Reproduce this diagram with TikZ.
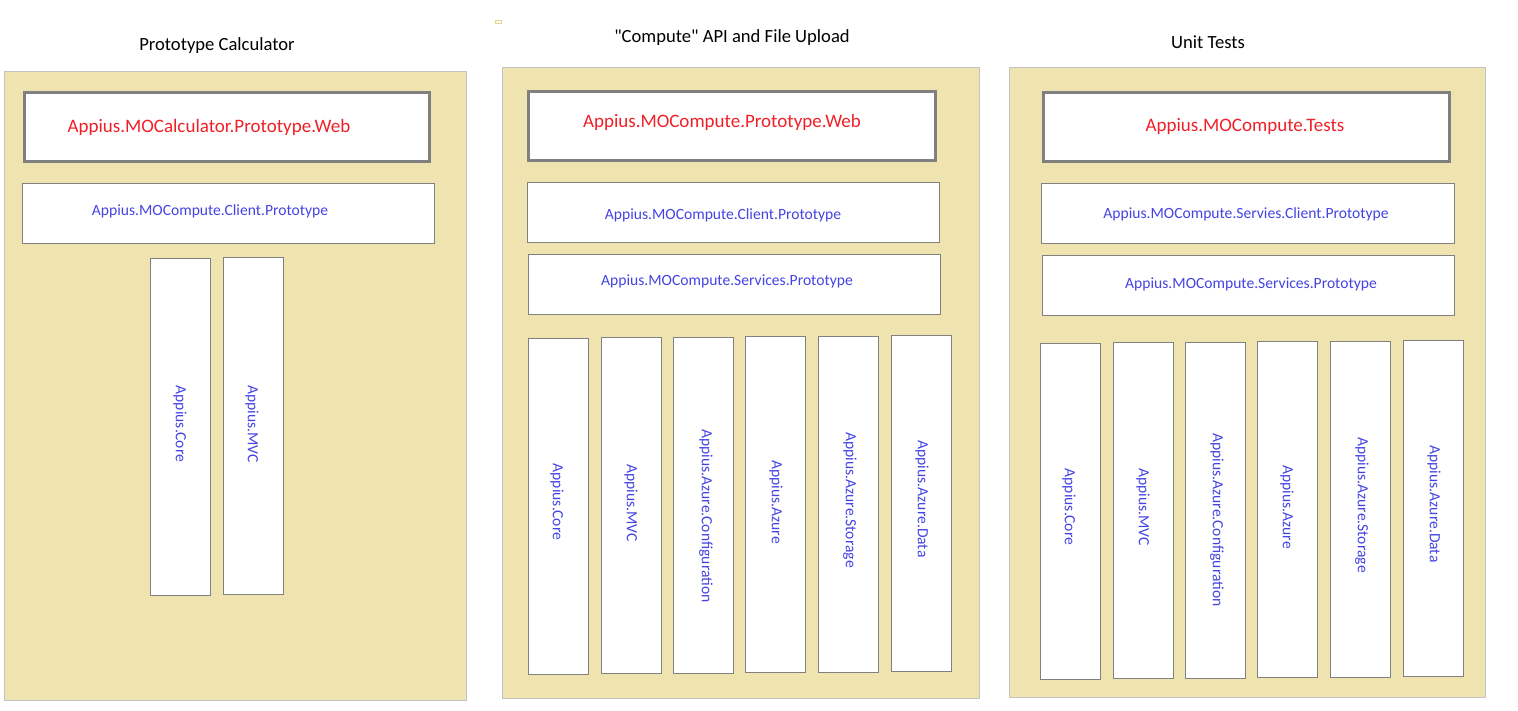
\documentclass[tikz,border=0pt]{standalone}
\usepackage{fontspec}
\setmainfont{Carlito}
\newfontfamily\titlefont{Carlito}
\definecolor{panelfill}{RGB}{239,227,176}
\definecolor{panelline}{RGB}{195,195,195}
\definecolor{boxline}{RGB}{128,128,128}
\definecolor{webred}{RGB}{240,32,40}
\definecolor{libblue}{RGB}{68,68,228}
\definecolor{speck}{RGB}{228,212,140}
\begin{document}
\begin{tikzpicture}[x=1pt,y=-1pt,
  panel/.style={draw=panelline,fill=panelfill,line width=1pt,inner sep=0pt},
  webbox/.style={draw=boxline,fill=white,line width=3pt,inner sep=0pt,minimum height=69pt},
  libbox/.style={draw=boxline,fill=white,line width=1pt,inner sep=0pt,minimum width=412pt,minimum height=60pt},
  colbox/.style={draw=boxline,fill=white,line width=1pt,inner sep=0pt,minimum width=60pt,minimum height=336pt},
  title/.style={inner sep=0pt,font=\titlefont\fontsize{18.6}{22}\selectfont},
  webtext/.style={inner sep=0pt,text=webred,font=\fontsize{19}{22}\selectfont},
  libtext/.style={inner sep=0pt,text=libblue,font=\fontsize{15.6}{18}\selectfont},
  coltext/.style={inner sep=0pt,text=libblue,font=\fontsize{15.6}{18}\selectfont,rotate=-90}]
  \useasboundingbox (0,0) rectangle (1518,711);
  \draw[speck] (495,20) rectangle (501,23);

  \node[panel,minimum width=462pt,minimum height=628pt] (calc) at (235,386) {};
  \node[title] (calctitle) at (217,46) {Prototype Calculator};
  \node[webbox,minimum width=405pt] (calcweb) at (227,127) {};
  \node[webtext] (calcwebt) at (209,127) {Appius.MOCalculator.Prototype.Web};
  \node[libbox] (calcclient) at (228,214) {};
  \node[libtext] (calcclientt) at (210,211) {Appius.MOCompute.Client.Prototype};
  \node[colbox] (calccore) at (180,427) {};
  \node[coltext] (calccoret) at (180,424) {Appius.Core};
  \node[colbox] (calcmvc) at (253,426) {};
  \node[coltext] (calcmvct) at (252,424) {Appius.MVC};

  \node[panel,minimum width=477pt,minimum height=630pt] (comp) at (740.5,383) {};
  \node[title] (comptitle) at (732,38) {"Compute" API and File Upload};
  \node[webbox,minimum width=407pt] (compweb) at (732,126) {};
  \node[webtext] (compwebt) at (722,122) {Appius.MOCompute.Prototype.Web};
  \node[libbox] (compclient) at (733,213) {};
  \node[libtext] (compclientt) at (723,215) {Appius.MOCompute.Client.Prototype};
  \node[libbox] (compserv) at (734,285) {};
  \node[libtext] (compservt) at (727,281) {Appius.MOCompute.Services.Prototype};
  \node[colbox] (compcore) at (558,506) {};
  \node[coltext] (compcoret) at (557,502) {Appius.Core};
  \node[colbox] (compmvc) at (631,505) {};
  \node[coltext] (compmvct) at (631,503) {Appius.MVC};
  \node[colbox] (compconf) at (703,505) {};
  \node[coltext] (compconft) at (706,516) {Appius.Azure.Configuration};
  \node[colbox] (compazure) at (775,504) {};
  \node[coltext] (compazuret) at (776,502) {Appius.Azure};
  \node[colbox] (compstore) at (848,504) {};
  \node[coltext] (compstoret) at (850,500) {Appius.Azure.Storage};
  \node[colbox] (compdata) at (921,503) {};
  \node[coltext] (compdatat) at (922,499) {Appius.Azure.Data};

  \node[panel,minimum width=476pt,minimum height=629pt] (test) at (1247,382.5) {};
  \node[title] (testtitle) at (1208,42) {Unit Tests};
  \node[webbox,minimum width=406pt] (testweb) at (1246.5,127) {};
  \node[webtext] (testwebt) at (1245,126) {Appius.MOCompute.Tests};
  \node[libbox,minimum width=413pt] (testclient) at (1247.5,214) {};
  \node[libtext] (testclientt) at (1246,214) {Appius.MOCompute.Servies.Client.Prototype};
  \node[libbox] (testserv) at (1248,286) {};
  \node[libtext] (testservt) at (1251,284) {Appius.MOCompute.Services.Prototype};
  \node[colbox] (testcore) at (1070,511) {};
  \node[coltext] (testcoret) at (1069,507) {Appius.Core};
  \node[colbox] (testmvc) at (1143,510) {};
  \node[coltext] (testmvct) at (1143,507) {Appius.MVC};
  \node[colbox] (testconf) at (1215,510) {};
  \node[coltext] (testconft) at (1217,520) {Appius.Azure.Configuration};
  \node[colbox] (testazure) at (1287,509) {};
  \node[coltext] (testazuret) at (1287,507) {Appius.Azure};
  \node[colbox] (teststore) at (1360,509) {};
  \node[coltext] (teststoret) at (1362,505) {Appius.Azure.Storage};
  \node[colbox] (testdata) at (1433,508) {};
  \node[coltext] (testdatat) at (1434,504) {Appius.Azure.Data};
\end{tikzpicture}
\end{document}
